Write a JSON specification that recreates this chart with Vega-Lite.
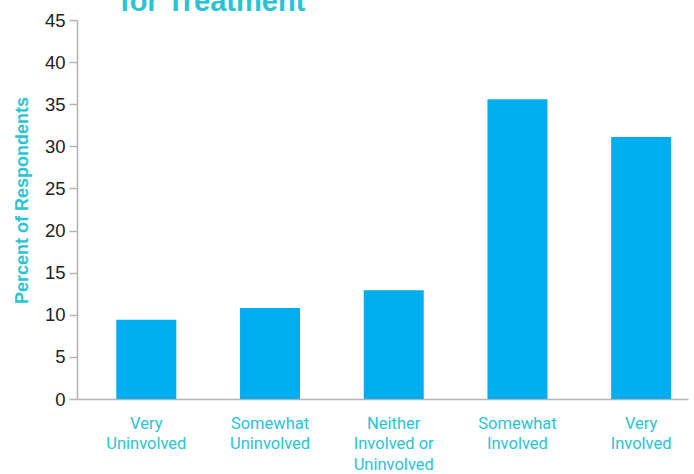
{
  "$schema": "https://vega.github.io/schema/vega-lite/v6.json",
  "autosize": "none",
  "width": 611,
  "height": 379,
  "padding": {"left": 77, "top": 20, "right": 6, "bottom": 75},
  "background": "white",
  "title": {
    "text": "for Treatment",
    "anchor": "start",
    "frame": "group",
    "dx": 43,
    "dy": 29,
    "offset": 0,
    "baseline": "alphabetic",
    "font": "Liberation Sans",
    "fontSize": 29,
    "fontWeight": "bold",
    "color": "#29c4d4"
  },
  "data": {
    "values": [
      {"involvement": "Very Uninvolved", "percent": 9.4},
      {"involvement": "Somewhat Uninvolved", "percent": 10.8},
      {"involvement": "Neither Involved or Uninvolved", "percent": 12.9},
      {"involvement": "Somewhat Involved", "percent": 35.6},
      {"involvement": "Very Involved", "percent": 31.1}
    ]
  },
  "mark": {"type": "bar", "color": "#00aeef"},
  "encoding": {
    "x": {
      "field": "involvement",
      "type": "nominal",
      "sort": null,
      "scale": {"paddingInner": 0.515, "paddingOuter": 0.227, "align": 0.7},
      "axis": {
        "title": null,
        "labelAngle": 0,
        "ticks": false,
        "domainColor": "#b4b4b4",
        "domainWidth": 1.5,
        "labelExpr": "datum.label == 'Neither Involved or Uninvolved' ? ['Neither', 'Involved or', 'Uninvolved'] : split(datum.label, ' ')",
        "labelFont": "Roboto",
        "labelFontSize": 16.5,
        "labelLineHeight": 20.5,
        "labelColor": "#29c4d4",
        "labelPadding": 16,
        "labelBaseline": "top"
      }
    },
    "y": {
      "field": "percent",
      "type": "quantitative",
      "scale": {"domain": [0, 45], "nice": false},
      "axis": {
        "title": "Percent of Respondents",
        "titleFont": "Liberation Sans",
        "titleFontSize": 18,
        "titleFontWeight": "bold",
        "titleColor": "#29c4d4",
        "titlePadding": 13,
        "titleY": 180,
        "values": [0, 5, 10, 15, 20, 25, 30, 35, 40, 45],
        "grid": false,
        "domainColor": "#b4b4b4",
        "domainWidth": 1.5,
        "tickColor": "#b4b4b4",
        "tickWidth": 1.5,
        "tickSize": 8,
        "labelFont": "Liberation Sans",
        "labelFontSize": 18.5,
        "labelColor": "#222222",
        "labelPadding": 4
      }
    }
  },
  "config": {"view": {"stroke": null}}
}
